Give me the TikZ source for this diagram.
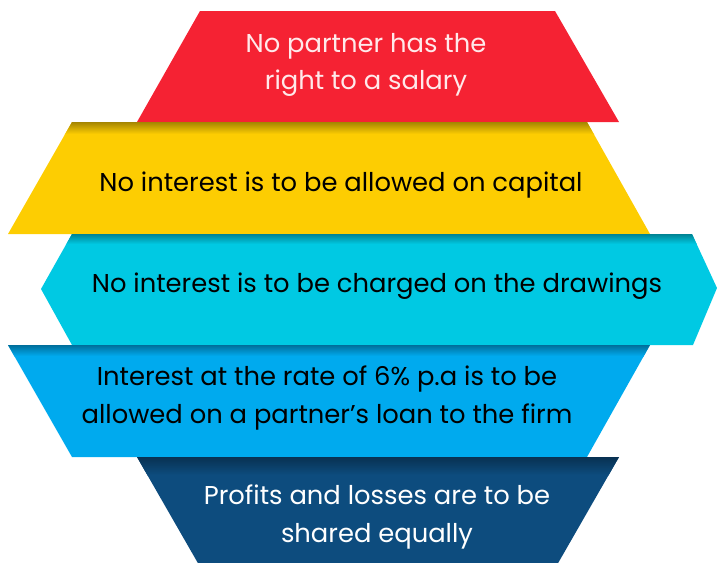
\documentclass[tikz,border=0pt]{standalone}
\usepackage{fontspec}
\setmainfont{Poppins}
\definecolor{bandred}{HTML}{F52233}
\definecolor{bandyellow}{HTML}{FDCD02}
\definecolor{bandcyan}{HTML}{00C9E3}
\definecolor{bandblue}{HTML}{00AAEE}
\definecolor{banddark}{HTML}{0D4C7E}
\definecolor{paletext}{HTML}{FFE9EA}
\begin{document}
\begin{tikzpicture}[x=1pt,y=-1pt,
  label text/.style={align=center,font=\fontsize{25.8}{37.5}\selectfont,inner sep=0pt},
  shade strip/.style={top color=black!35!#1,bottom color=#1,draw=none}]
\useasboundingbox (0,0) rectangle (717,562);
% band 1: red
\fill[bandred] (200,11) -- (555,11) -- (619,122) -- (137,122) -- cycle;
% band 2: yellow
\fill[bandyellow] (72,122) -- (587,122) -- (650,234) -- (8,234) -- cycle;
\begin{scope}
  \clip (72,122) -- (587,122) -- (650,234) -- (8,234) -- cycle;
  \shade[shade strip=bandyellow] (0,122) rectangle (717,134);
\end{scope}
% band 3: cyan
\fill[bandcyan] (72,234) -- (692,234) -- (717,288) -- (693,345) -- (72,345) -- (41,289) -- cycle;
\begin{scope}
  \clip (72,234) -- (692,234) -- (717,288) -- (693,345) -- (72,345) -- (41,289) -- cycle;
  \shade[shade strip=bandcyan] (0,234) rectangle (717,244);
\end{scope}
% band 4: blue
\fill[bandblue] (8,345) -- (650,345) -- (587,457) -- (72,457) -- cycle;
\begin{scope}
  \clip (8,345) -- (650,345) -- (587,457) -- (72,457) -- cycle;
  \shade[shade strip=bandblue] (0,345) rectangle (717,356);
\end{scope}
% band 5: dark blue
\fill[banddark] (137,457) -- (619,457) -- (557,565) -- (199,565) -- cycle;
\begin{scope}
  \clip (137,457) -- (619,457) -- (557,565) -- (199,565) -- cycle;
  \shade[shade strip=banddark] (0,457) rectangle (717,475);
\end{scope}
% texts
\node[label text,text=paletext] (t1) at (366,65) {No partner has the\\right to a salary};
\node[label text,text=black] (t2) at (341,185) {No interest is to be allowed on capital};
\node[label text,text=black] (t3) at (377,286) {No interest is to be charged on the drawings};
\node[label text,text=black] (t4) at (327,398) {Interest at the rate of 6\% p.a is to be\\allowed on a partner’s loan to the firm};
\node[label text,text=white] (t5) at (377,517) {Profits and losses are to be\\shared equally};
\end{tikzpicture}
\end{document}
